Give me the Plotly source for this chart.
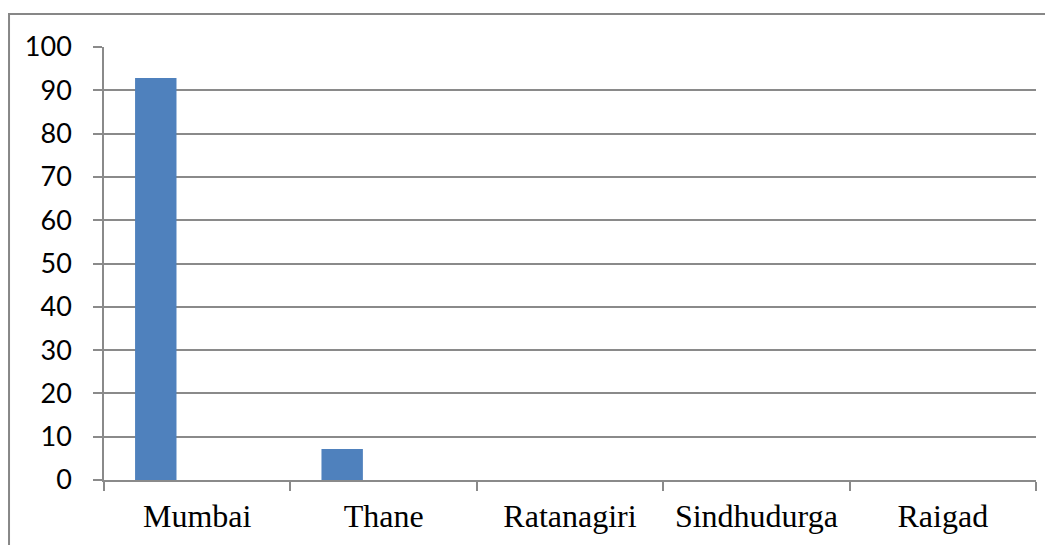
import plotly.graph_objects as go

districts = ["Mumbai", "Thane", "Ratanagiri", "Sindhudurga", "Raigad"]
share = [92.86, 7.14, 0, 0, 0]
# the sheet had two more (empty) series, they only take up slot space
empty_a = [None] * 5
empty_b = [None] * 5

y_ticks = list(range(0, 101, 10))

bar_fg = "#4F81BD"
grid_col = "#8A8A8A"

fig = go.Figure()
for vals, nm in [(share, "Series1"), (empty_a, "Series2"), (empty_b, "Series3")]:
    fig.add_trace(
        go.Bar(
            x=districts,
            y=vals,
            name=nm,
            marker=dict(color=bar_fg, line=dict(width=0)),
            showlegend=False,
        )
    )

# outer chart border (partly off-canvas on right and bottom)
fig.add_shape(
    type="rect",
    xref="paper", yref="paper",
    x0=-0.1019, x1=1.05, y0=-0.25, y1=1.0762,
    line=dict(color="#878787", width=2),
    fillcolor="rgba(0,0,0,0)",
    layer="below",
)

fig.update_layout(
    width=1053,
    height=545,
    barmode="group",
    bargap=1.5 / 4.5,
    bargroupgap=0,
    plot_bgcolor="white",
    paper_bgcolor="white",
    # page body has an 8px margin, so pull everything up/left by 8
    margin=dict(l=96, r=25, t=39, b=73, autoexpand=False),
    xaxis=dict(
        showgrid=False,
        showline=True,
        linecolor=grid_col,
        linewidth=1.5,
        ticks="outside",
        tickson="boundaries",
        ticklen=9,
        tickwidth=1.5,
        tickcolor=grid_col,
        tickangle=0,
        tickfont=dict(family="Liberation Serif", size=32, color="black"),
        ticklabelstandoff=7,
    ),
    yaxis=dict(
        range=[0, 100],
        tickmode="array",
        tickvals=y_ticks,
        showgrid=True,
        gridcolor=grid_col,
        gridwidth=1.5,
        zeroline=False,
        showline=True,
        linecolor=grid_col,
        linewidth=1.5,
        ticks="outside",
        ticklen=9,
        tickwidth=1.5,
        tickcolor=grid_col,
        tickfont=dict(family="Lato", size=27, color="black"),
        ticklabelstandoff=16,
    ),
)

fig.write_html("out.html")
